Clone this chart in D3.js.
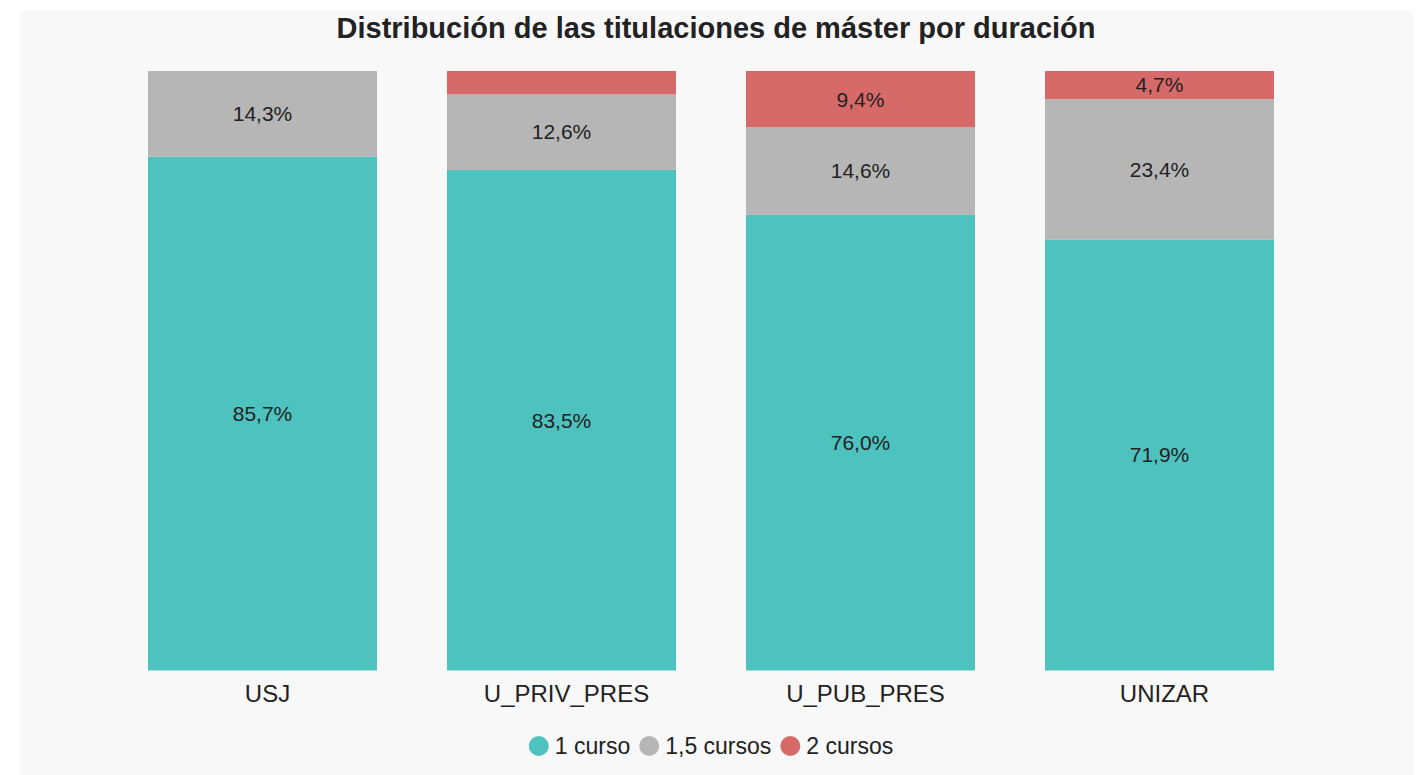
<!DOCTYPE html>
<html lang="es">
<head>
    <meta charset="UTF-8">
    <title>Distribución de las titulaciones de máster por duración</title>
    <style>
        body {
            margin: 0;
            padding: 0;
            background: #ffffff;
        }
        #chart {
            width: 1421px;
            height: 775px;
        }
        text {
            font-family: "Liberation Sans", Arial, sans-serif;
            fill: #222;
        }
    </style>
</head>
<body>
    <div id="chart"></div>

    <script src="https://d3js.org/d3.v7.min.js"></script>
    <script>
        // datos
        const universidades = ["USJ", "U_PRIV_PRES", "U_PUB_PRES", "UNIZAR"];
        const series = ["1 curso", "1,5 cursos", "2 cursos"];
        const unCurso = [85.7, 83.5, 76.0, 71.9];
        const unoCincoCursos = [14.3, 12.6, 14.6, 23.4];
        const dosCursos = [0, 3.9, 9.4, 4.7];
        const colores = ["#4ec2bf", "#b6b6b6", "#d66a68"];

        const width = 1421, height = 775;

        const svg = d3.select("#chart")
            .append("svg")
            .attr("width", width)
            .attr("height", height);

        // fondo
        svg.append("rect")
            .attr("x", 20)
            .attr("y", 11)
            .attr("width", 1393)
            .attr("height", height - 11)
            .attr("fill", "#f8f8f8");

        svg.append("text")
            .attr("x", 716)
            .attr("y", 38)
            .attr("text-anchor", "middle")
            .style("font-size", "29px")
            .style("font-weight", "bold")
            .text("Distribución de las titulaciones de máster por duración");

        const filas = universidades.map((u, i) => ({
            uni: u,
            "1 curso": unCurso[i],
            "1,5 cursos": unoCincoCursos[i],
            "2 cursos": dosCursos[i]
        }));

        const stack = d3.stack().keys(series);
        const apilado = stack(filas);

        const x = d3.scaleBand()
            .domain(universidades)
            .range([113, 1309])
            .paddingInner(0.234)
            .paddingOuter(0.117);

        const y = d3.scaleLinear()
            .domain([0, 100])
            .range([670.5, 71]);

        const color = d3.scaleOrdinal().domain(series).range(colores);

        const grupos = svg.selectAll(".serie")
            .data(apilado)
            .enter().append("g")
            .attr("class", "serie")
            .attr("fill", d => color(d.key));

        grupos.selectAll("rect")
            .data(d => d)
            .enter().append("rect")
            .attr("x", d => x(d.data.uni))
            .attr("y", d => y(d[1]))
            .attr("width", x.bandwidth())
            .attr("height", d => y(d[0]) - y(d[1]));

        // etiquetas de porcentaje
        grupos.selectAll(".label")
            .data(d => d.filter(s => s[1] - s[0] >= 4.5))
            .enter().append("text")
            .attr("class", "label")
            .attr("x", d => x(d.data.uni) + x.bandwidth() / 2)
            .attr("y", d => (y(d[0]) + y(d[1])) / 2)
            .attr("dy", "0.35em")
            .attr("text-anchor", "middle")
            .style("font-size", "21px")
            .text(d => d3.format(".1f")(d[1] - d[0]).replace(".", ",") + "%");

        // eje x
        const ejeX = svg.append("g")
            .attr("transform", `translate(0,${y(0)})`)
            .call(d3.axisBottom(x).tickSize(0).tickPadding(14));
        ejeX.select(".domain").remove();
        ejeX.selectAll("text")
            .attr("fill", "#222")
            .attr("dx", 5)
            .style("font-size", "24px")
            .style("font-family", "'Liberation Sans', Arial, sans-serif");

        // leyenda
        const leyenda = svg.append("g").attr("transform", "translate(0,746)");
        const anchos = [];
        const items = leyenda.selectAll(".item")
            .data(series)
            .enter().append("g")
            .attr("class", "item");
        items.append("circle")
            .attr("r", 10)
            .attr("cx", 10)
            .attr("fill", d => color(d));
        items.append("text")
            .attr("x", 26)
            .attr("dy", "0.35em")
            .style("font-size", "23px")
            .text(d => d)
            .each(function () { anchos.push(this.getComputedTextLength() + 26); });

        const gap = 9;
        const total = d3.sum(anchos) + gap * (anchos.length - 1);
        let pos = 711 - total / 2;
        items.attr("transform", (d, i) => {
            const t = `translate(${pos},0)`;
            pos += anchos[i] + gap;
            return t;
        });
    </script>
</body>
</html>
